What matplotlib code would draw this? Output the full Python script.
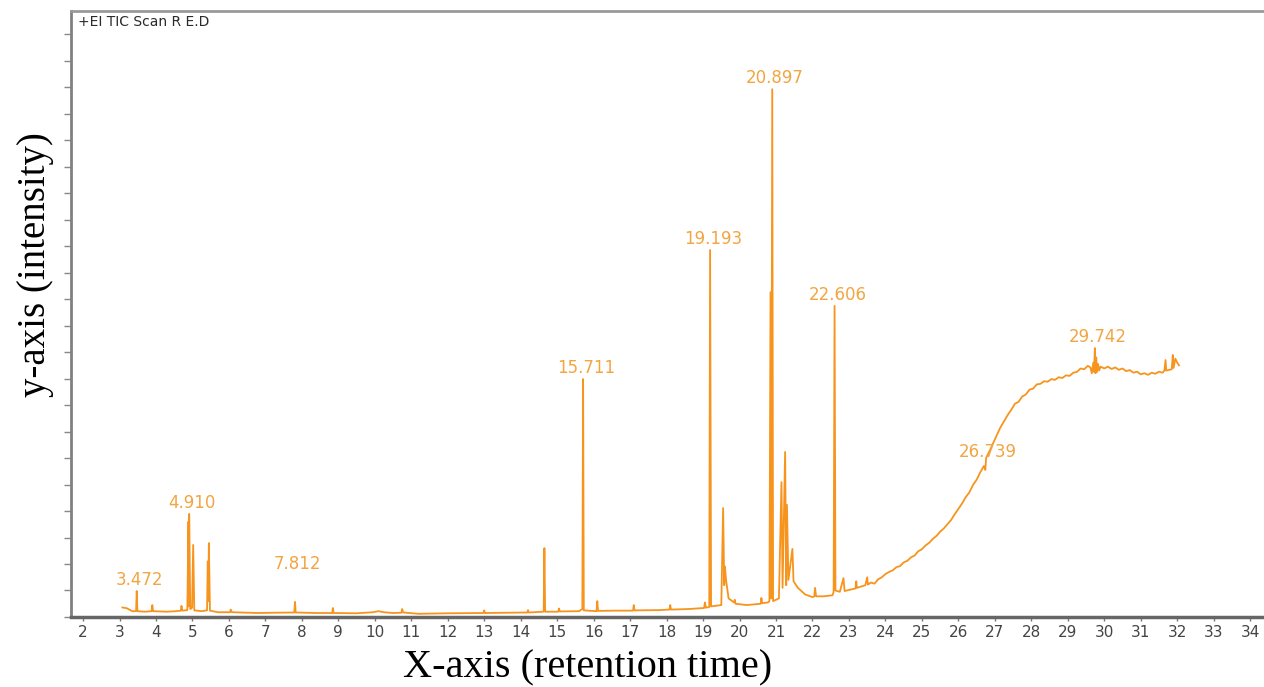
"""
GC-MS total ion chromatogram (TIC) of sample R E.D
"""
import matplotlib
matplotlib.use('Agg')
import matplotlib.pyplot as plt

# retention time (min) and intensity (arbitrary units, one unit per y tick)
# part 1: flat baseline with the sharp peaks, 3 - 23.5 min
rt = [3.08, 3.20, 3.35, 3.455, 3.472, 3.49, 3.70, 3.88, 3.90, 3.92,
      4.30, 4.55, 4.68, 4.70, 4.72, 4.86, 4.89, 4.905, 4.91, 4.94,
      4.99, 5.02, 5.05, 5.25, 5.40, 5.42, 5.435, 5.45, 5.48, 5.70,
      6.03, 6.05, 6.08, 6.80, 7.20, 7.79, 7.812, 7.83, 8.40, 8.83,
      8.85, 8.87, 9.50, 9.95, 10.10, 10.25, 10.50, 10.73, 10.75, 10.78,
      11.20, 12.00, 12.98, 13.00, 13.02, 13.60, 14.18, 14.20, 14.22, 14.50,
      14.63, 14.65, 14.67, 15.03, 15.05, 15.07, 15.60, 15.69, 15.711, 15.73,
      16.08, 16.10, 16.12, 16.60, 17.08, 17.10, 17.12, 17.80, 18.08, 18.10,
      18.12, 18.60, 19.03, 19.05, 19.08, 19.17, 19.193, 19.22, 19.50, 19.55,
      19.58, 19.60, 19.63, 19.70, 19.85, 19.87, 19.89, 20.20, 20.58, 20.60,
      20.62, 20.78, 20.82, 20.85, 20.87, 20.897, 20.92, 21.08, 21.15, 21.18,
      21.25, 21.28, 21.30, 21.34, 21.45, 21.48, 21.60, 21.80, 22.00, 22.05,
      22.07, 22.10, 22.30, 22.55, 22.58, 22.606, 22.63, 22.75, 22.85, 22.88,
      23.00, 23.18, 23.20, 23.22, 23.45, 23.50, 23.52]

intensity = [0.36, 0.33, 0.22, 0.22, 0.98, 0.22, 0.20, 0.22, 0.45, 0.22,
             0.20, 0.22, 0.24, 0.42, 0.24, 0.26, 3.60, 0.40, 3.89, 0.30,
             0.35, 2.72, 0.25, 0.22, 0.25, 2.10, 0.60, 2.79, 0.24, 0.18,
             0.18, 0.28, 0.18, 0.15, 0.16, 0.17, 0.57, 0.17, 0.15, 0.15,
             0.34, 0.15, 0.14, 0.18, 0.22, 0.18, 0.15, 0.16, 0.30, 0.17,
             0.12, 0.14, 0.15, 0.25, 0.15, 0.16, 0.17, 0.26, 0.17, 0.19,
             0.20, 2.60, 0.20, 0.20, 0.32, 0.21, 0.22, 0.30, 8.98, 0.25,
             0.22, 0.60, 0.23, 0.24, 0.24, 0.45, 0.25, 0.26, 0.28, 0.45,
             0.28, 0.30, 0.34, 0.55, 0.35, 0.38, 13.85, 0.40, 0.45, 4.11,
             1.20, 1.90, 1.40, 0.70, 0.55, 0.65, 0.50, 0.45, 0.50, 0.72,
             0.52, 0.55, 0.60, 12.26, 0.70, 19.92, 0.60, 0.70, 5.09, 1.10,
             6.23, 1.20, 4.23, 1.40, 2.57, 1.35, 1.10, 0.85, 0.75, 0.78,
             1.10, 0.78, 0.78, 0.82, 0.95, 11.74, 1.00, 0.95, 1.47, 0.98,
             1.02, 1.08, 1.35, 1.10, 1.20, 1.50, 1.22]

# part 2: rising column-bleed hump, 23.6 - 32 min
hump_rt = [23.60, 23.70, 23.80, 23.90, 24.00, 24.10, 24.20, 24.30, 24.40, 24.50,
           24.60, 24.70, 24.80, 24.90, 25.00, 25.10, 25.20, 25.30, 25.40, 25.50,
           25.60, 25.70, 25.80, 25.90, 26.00, 26.10, 26.20, 26.30, 26.40, 26.50,
           26.60, 26.70, 26.739, 26.76, 26.85, 26.95, 27.05, 27.15, 27.25, 27.35,
           27.45, 27.55, 27.65, 27.75, 27.85, 27.95, 28.05, 28.15, 28.25, 28.35,
           28.45, 28.55, 28.65, 28.75, 28.85, 28.95, 29.05, 29.15, 29.25, 29.35,
           29.45, 29.55, 29.62, 29.66, 29.70, 29.72, 29.742, 29.76, 29.78, 29.80,
           29.83, 29.86, 29.90, 30.00, 30.10, 30.20, 30.30, 30.40, 30.50, 30.60,
           30.70, 30.80, 30.90, 31.00, 31.10, 31.20, 31.30, 31.40, 31.50, 31.60,
           31.65, 31.68, 31.70, 31.85, 31.88, 31.90, 31.95, 32.00, 32.05]

hump_intensity = [1.30, 1.26, 1.42, 1.50, 1.62, 1.70, 1.76, 1.88, 1.92, 2.06,
                  2.12, 2.25, 2.32, 2.48, 2.56, 2.70, 2.80, 2.95, 3.06, 3.22,
                  3.34, 3.50, 3.66, 3.88, 4.08, 4.28, 4.52, 4.70, 4.98, 5.18,
                  5.46, 5.70, 5.55, 6.00, 6.25, 6.55, 6.85, 7.15, 7.38, 7.62,
                  7.82, 8.05, 8.12, 8.32, 8.40, 8.58, 8.62, 8.78, 8.80, 8.90,
                  8.88, 8.98, 8.95, 9.05, 9.02, 9.12, 9.10, 9.22, 9.25, 9.38,
                  9.35, 9.48, 9.42, 9.20, 9.60, 9.25, 10.15, 9.20, 9.80, 9.25,
                  9.55, 9.30, 9.45, 9.38, 9.45, 9.36, 9.42, 9.33, 9.38, 9.28,
                  9.32, 9.22, 9.26, 9.16, 9.20, 9.14, 9.22, 9.18, 9.26, 9.22,
                  9.30, 9.70, 9.30, 9.35, 9.89, 9.40, 9.75, 9.60, 9.50]

# annotated peaks: label, retention time, height at the label anchor
peak_labels = ['3.472', '4.910', '7.812', '15.711', '19.193',
               '20.897', '22.606', '26.739', '29.742']
peak_rt = [3.472, 4.910, 7.812, 15.711, 19.193, 20.897, 22.606, 26.739, 29.742]
peak_height = [0.98, 3.89, 0.57, 8.98, 13.85, 19.92, 11.74, 5.60, 10.15]

xticks = list(range(2, 35))

line_color = '#f7941d'
label_color = '#f2a541'

fig = plt.figure(figsize=(12.64, 6.87), dpi=100)
ax = fig.add_axes([0.0562, 0.1019, 0.9438, 0.882])

ax.plot(rt + hump_rt, intensity + hump_intensity, color=line_color, linewidth=1.3)

for lab, x, y in zip(peak_labels, peak_rt, peak_height):
    dy = 8
    if lab == '7.812':
        dy = 27
    elif lab == '26.739':
        dy = 12
    ax.annotate(lab, (x, y), xytext=(2, dy), textcoords='offset points',
                ha='center', va='center', fontsize=12, color=label_color,
                family='DejaVu Sans')

ax.text(0.006, 0.982, '+EI TIC Scan R E.D', transform=ax.transAxes,
        ha='left', va='center', fontsize=10, color='#2a2a2a',
        family='DejaVu Sans')

ax.set_xlim(1.671, 34.38)
ax.set_ylim(0, 22.87)
ax.set_xticks(xticks)
ax.set_xticklabels([str(t) for t in xticks], fontsize=11, color='#444444',
                   family='DejaVu Sans')
ax.set_yticks(range(0, 23))
ax.set_yticklabels([])
ax.tick_params(axis='x', direction='out', length=3, width=1, color='#777777', pad=3)
ax.tick_params(axis='y', direction='out', length=5, width=1, color='#888888')

ax.spines['right'].set_visible(False)
ax.spines['bottom'].set_color('#666666')
ax.spines['bottom'].set_linewidth(2.5)
ax.spines['left'].set_color('#808080')
ax.spines['left'].set_linewidth(2)
ax.spines['top'].set_color('#999999')
ax.spines['top'].set_linewidth(2)

fig.text(0.465, 0.028, 'X-axis (retention time)', ha='center', va='center',
         fontsize=29, family='Liberation Serif')
fig.text(0.028, 0.615, 'y-axis (intensity)', ha='center', va='center',
         rotation=90, fontsize=28, family='Liberation Serif')

plt.savefig('out.png', dpi=100)
plt.close()
